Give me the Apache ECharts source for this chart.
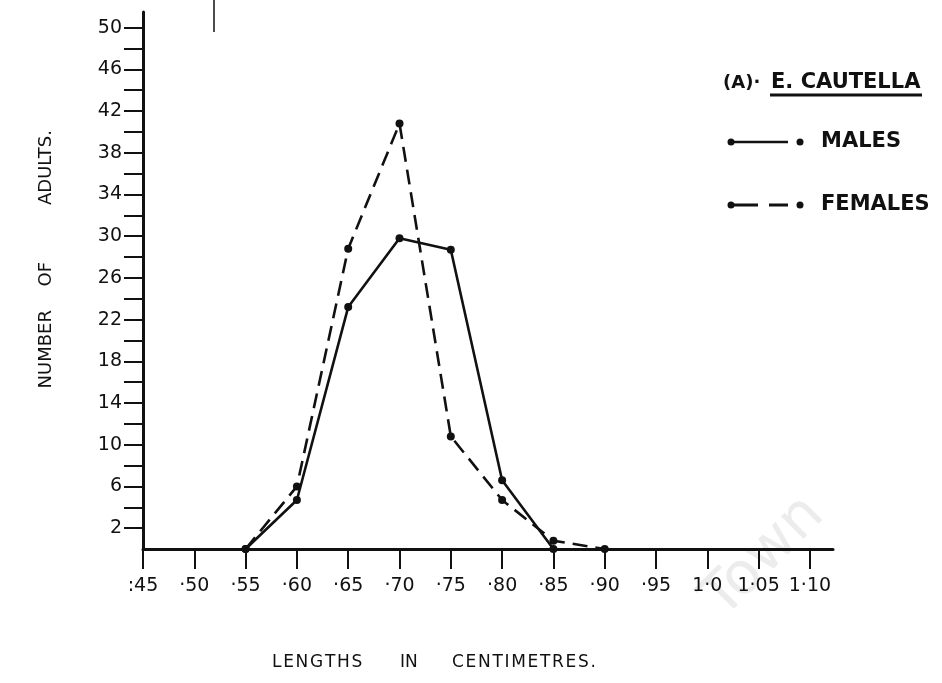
<!DOCTYPE html>
<html>
<head>
<meta charset="utf-8">
<title>E. cautella lengths</title>
<script src="https://cdn.jsdelivr.net/npm/echarts@6/dist/echarts.min.js"></script>
<style>
  html, body { margin: 0; padding: 0; background: #fff; }
  #chart { width: 942px; height: 683px; }
</style>
</head>
<body>
<div id="chart"></div>
<script>
// lengths in centimetres
const maleLengths = [0.55, 0.60, 0.65, 0.70, 0.75, 0.80, 0.85];
const maleCounts = [0, 4.7, 23.2, 29.8, 28.7, 6.6, 0];
const femaleLengths = [0.55, 0.60, 0.65, 0.70, 0.75, 0.80, 0.85, 0.90];
const femaleCounts = [0, 6.0, 28.8, 40.8, 10.8, 4.7, 0.8, 0];

// axis ticks and labels
const xTickValues = [0.45, 0.50, 0.55, 0.60, 0.65, 0.70, 0.75, 0.80, 0.85, 0.90, 0.95, 1.00, 1.05, 1.10];
const xTickLabels = [":45", "·50", "·55", "·60", "·65", "·70", "·75", "·80", "·85", "·90", "·95", "1·0", "1·05", "1·10"];
const yTickValues = [2, 4, 6, 8, 10, 12, 14, 16, 18, 20, 22, 24, 26, 28, 30, 32, 34, 36, 38, 40, 42, 44, 46, 48, 50];
const yLabelValues = [2, 6, 10, 14, 18, 22, 26, 30, 34, 38, 42, 46, 50];

const font = "DejaVu Sans, sans-serif";
const ink = "#111";
const hair = "\u200A";

function pairs(xs, ys) {
  return xs.map((x, i) => [x, ys[i]]);
}

function spaced(word) {
  return word.split("").join(hair);
}

const chart = echarts.init(document.getElementById("chart"));

const option = {
  backgroundColor: "#fff",
  animation: false,
  textStyle: { fontFamily: font, color: ink },
  grid: { left: 143, right: 109, top: 12, bottom: 134 },
  xAxis: {
    type: "value",
    min: 0.45,
    max: 1.1225,
    splitLine: { show: false },
    axisLine: { lineStyle: { color: ink, width: 3 } },
    axisTick: {
      customValues: xTickValues,
      length: 20,
      lineStyle: { color: ink, width: 2 },
    },
    axisLabel: {
      customValues: xTickValues,
      margin: 28,
      fontSize: 19,
      color: ink,
      fontFamily: font,
      formatter: (v) => {
        const i = xTickValues.findIndex((t) => Math.abs(t - v) < 1e-6);
        return i < 0 ? "" : xTickLabels[i];
      },
    },
  },
  yAxis: {
    type: "value",
    min: 0,
    max: 51.5,
    splitLine: { show: false },
    axisLine: { lineStyle: { color: ink, width: 3 } },
    axisTick: {
      customValues: yTickValues,
      length: 19,
      lineStyle: { color: ink, width: 2 },
    },
    axisLabel: {
      customValues: yLabelValues,
      margin: 21,
      fontSize: 19,
      color: ink,
      fontFamily: font,
    },
  },
  series: [
    {
      name: "MALES",
      type: "line",
      data: pairs(maleLengths, maleCounts),
      symbol: "circle",
      symbolSize: 8,
      itemStyle: { color: ink },
      lineStyle: { color: ink, width: 2.6, type: "solid" },
      z: 3,
    },
    {
      name: "FEMALES",
      type: "line",
      data: pairs(femaleLengths, femaleCounts),
      symbol: "circle",
      symbolSize: 8,
      itemStyle: { color: ink },
      lineStyle: { color: ink, width: 2.6, type: [15, 8] },
      z: 2,
    },
  ],
  graphic: [
    // y axis title, reading upwards
    {
      type: "text",
      left: 37,
      top: 130,
      rotation: Math.PI / 2,
      style: { text: "ADULTS.", font: "18px " + font, fill: ink },
    },
    {
      type: "text",
      left: 37,
      top: 262,
      rotation: Math.PI / 2,
      style: { text: "OF", font: "18px " + font, fill: ink },
    },
    {
      type: "text",
      left: 37,
      top: 310,
      rotation: Math.PI / 2,
      style: { text: "NUMBER", font: "18px " + font, fill: ink },
    },
    // x axis title
    {
      type: "text",
      left: 272,
      top: 654,
      style: { text: spaced("LENGTHS"), font: "17px " + font, fill: ink },
    },
    {
      type: "text",
      left: 400,
      top: 654,
      style: { text: "IN", font: "17px " + font, fill: ink },
    },
    {
      type: "text",
      left: 452,
      top: 654,
      style: { text: spaced("CENTIMETRES."), font: "17px " + font, fill: ink },
    },
    // legend block
    {
      type: "text",
      left: 723,
      top: 74,
      style: { text: "(A)·", font: "bold 18px " + font, fill: ink },
    },
    {
      type: "text",
      left: 771,
      top: 72,
      style: { text: "E. CAUTELLA", font: "bold 21px " + font, fill: ink },
    },
    {
      type: "line",
      shape: { x1: 770, y1: 95, x2: 922, y2: 95 },
      style: { stroke: ink, lineWidth: 3 },
    },
    {
      type: "line",
      shape: { x1: 731, y1: 142, x2: 788, y2: 142 },
      style: { stroke: ink, lineWidth: 2.6 },
    },
    { type: "circle", shape: { cx: 731, cy: 142, r: 3.5 }, style: { fill: ink } },
    { type: "circle", shape: { cx: 800, cy: 142, r: 3.5 }, style: { fill: ink } },
    {
      type: "text",
      left: 821,
      top: 131,
      style: { text: "MALES", font: "bold 21px " + font, fill: ink },
    },
    {
      type: "line",
      shape: { x1: 733, y1: 205, x2: 788, y2: 205 },
      style: { stroke: ink, lineWidth: 3, lineDash: [25, 11] },
    },
    { type: "circle", shape: { cx: 731, cy: 205, r: 3.5 }, style: { fill: ink } },
    { type: "circle", shape: { cx: 800, cy: 205, r: 3.5 }, style: { fill: ink } },
    {
      type: "text",
      left: 821,
      top: 194,
      style: { text: "FEMALES", font: "bold 21px " + font, fill: ink },
    },
    // scan artefact at the top and faint watermark
    {
      type: "line",
      shape: { x1: 214, y1: 0, x2: 214, y2: 32 },
      style: { stroke: ink, lineWidth: 1.5 },
    },
    {
      type: "text",
      x: 692,
      y: 588,
      rotation: Math.PI / 4,
      style: {
        text: "Town",
        font: "58px " + font,
        fill: "#ececec",
      },
      z: -1,
    },
  ],
};

chart.setOption(option);
</script>
</body>
</html>
